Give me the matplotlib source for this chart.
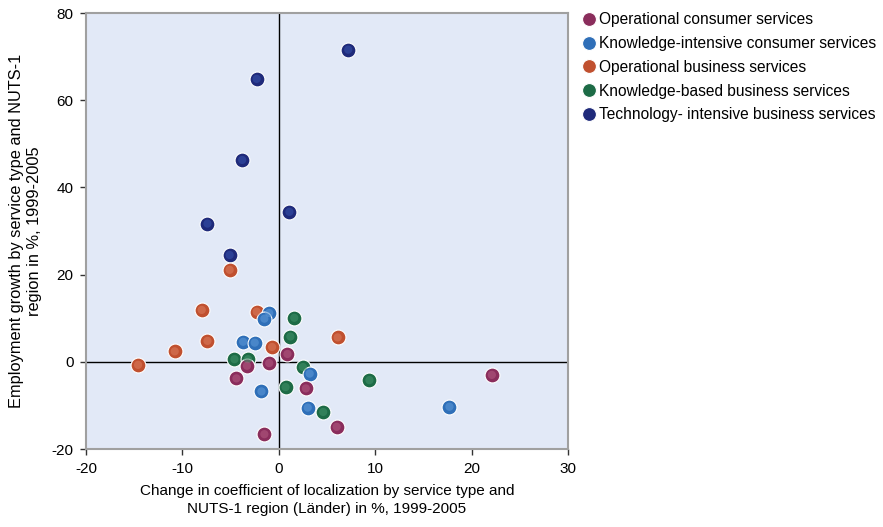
import matplotlib
matplotlib.use("Agg")
import matplotlib.pyplot as plt
import numpy as np
from matplotlib.lines import Line2D

plt.rcParams['font.family'] = ['Liberation Sans', 'DejaVu Sans']
plt.rcParams['axes.unicode_minus'] = False

series_names = [
    "Operational consumer services",
    "Knowledge-intensive consumer services",
    "Operational business services",
    "Knowledge-based business services",
    "Technology- intensive business services",
]
colors = ["#8a2d5c", "#2f6fb8", "#c0502f", "#1d6b46", "#1f2a7a"]
light = ["#b0577f", "#5b97d6", "#d9795a", "#3f8f67", "#3550a8"]

op_consumer_x = [0.9, -1.0, -3.3, -4.4, 2.8, 6.0, -1.5, 22.1]
op_consumer_y = [1.8, -0.3, -0.9, -3.8, -6.1, -14.9, -16.6, -3.0]

ki_consumer_x = [-1.0, -1.5, -3.7, -2.5, 3.2, -1.8, 3.0, 17.7]
ki_consumer_y = [11.2, 9.9, 4.6, 4.4, -2.7, -6.8, -10.5, -10.3]

op_business_x = [-5.1, -8.0, -7.4, -10.8, -14.6, -2.3, -0.7, 6.1]
op_business_y = [21.1, 11.9, 4.8, 2.4, -0.7, 11.5, 3.4, 5.6]

kb_business_x = [1.6, 1.2, -4.6, -3.2, 2.5, 0.7, 4.6, 9.4]
kb_business_y = [10.1, 5.8, 0.6, 0.6, -1.2, -5.8, -11.5, -4.2]

ti_business_x = [7.2, -2.3, -3.8, -7.4, 1.1, -5.1]
ti_business_y = [71.6, 64.9, 46.3, 31.7, 34.4, 24.5]

xs = [op_consumer_x, ki_consumer_x, op_business_x, kb_business_x, ti_business_x]
ys = [op_consumer_y, ki_consumer_y, op_business_y, kb_business_y, ti_business_y]

xticks = [-20, -10, 0, 10, 20, 30]
yticks = [-20, 0, 20, 40, 60, 80]

fig = plt.figure(figsize=(8.83, 5.27), dpi=100)
ax = fig.add_axes([0.0974, 0.148, 0.5459, 0.8273])
ax.set_facecolor("#e2e9f7")

ax.axhline(0, color="black", lw=1.0, zorder=1)
ax.axvline(0, color="black", lw=1.0, zorder=1)

order = [4, 2, 3, 1, 0]
for i in order:
    ax.scatter(xs[i], ys[i], s=115, color=colors[i], edgecolor="white",
               linewidths=0.8, zorder=3)
    ax.scatter(xs[i], ys[i], s=35, color=light[i], edgecolor="none",
               alpha=0.6, zorder=4)

ax.set_xlim(-20, 30)
ax.set_ylim(-20, 80)
ax.set_xticks(xticks)
ax.set_yticks(yticks)
ax.tick_params(labelsize=11, length=4, width=1, color="#333333",
               direction="out", pad=5)
for sp in ax.spines.values():
    sp.set_color("#a0a0a0")
    sp.set_linewidth(1.5)

ax.set_xlabel("Change in coefficient of localization by service type and\nNUTS-1 region (Länder) in %, 1999-2005",
              fontsize=11, linespacing=1.3)
ax.xaxis.set_label_coords(0.5, -0.081)
ax.set_ylabel("Employment growth by service type and NUTS-1\nregion in %, 1999-2005",
              fontsize=11.8, linespacing=1.25)
ax.yaxis.set_label_coords(-0.091, 0.5)

handles = [Line2D([0], [0], marker="o", linestyle="none", markersize=10,
                  markerfacecolor=colors[i], markeredgecolor="white",
                  markeredgewidth=0.8) for i in range(5)]
fig.legend(handles, series_names, loc="upper left",
           bbox_to_anchor=(0.645, 0.997), frameon=False, fontsize=11.2,
           handletextpad=0.1, labelspacing=0.56, borderaxespad=0.3,
           handlelength=1.1)

fig.savefig("out.png", dpi=100)
